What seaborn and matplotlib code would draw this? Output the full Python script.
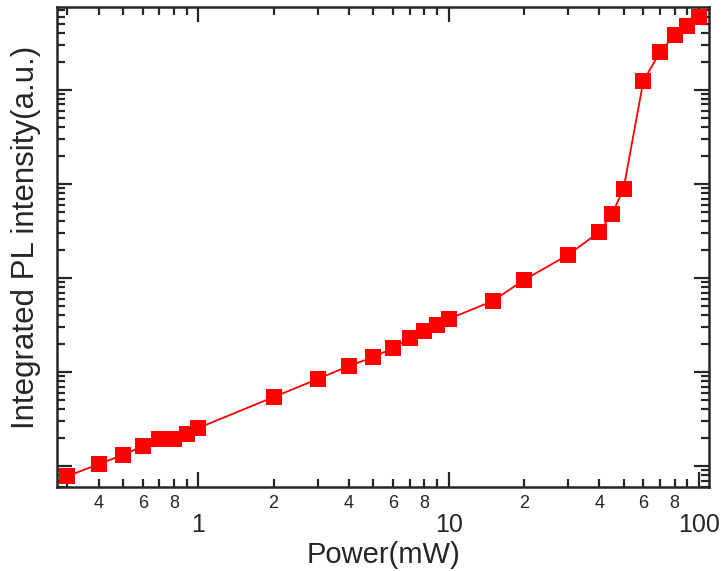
import matplotlib
matplotlib.use('Agg')
import matplotlib.pyplot as plt
import matplotlib.ticker as mticker
import numpy as np
import pandas as pd
import seaborn as sns

# data (y in arbitrary units, log scale)
power_mw = [0.3, 0.4, 0.5, 0.6, 0.7, 0.8, 0.9, 1, 2, 3, 4, 5, 6, 7, 8, 9, 10,
            15, 20, 30, 40, 45, 50, 60, 70, 80, 90, 100]
pl_intensity = [0.78, 1.05, 1.31, 1.63, 1.94, 1.96, 2.19, 2.54, 5.42, 8.43,
                11.6, 14.4, 18.0, 23.0, 27.3, 31.6, 36.6, 56.9, 95.2, 176,
                308, 480, 885, 12470, 25360, 38460, 47970, 59800]

df = pd.DataFrame({'power': power_mw, 'pl': pl_intensity})

sns.set_style('ticks')
plt.rcParams['font.family'] = ['Liberation Sans', 'DejaVu Sans']

fig, ax = plt.subplots(figsize=(7.23, 5.71), dpi=100)
fig.subplots_adjust(left=0.079, right=0.981, top=0.988, bottom=0.147)

ax.set_xscale('log')
ax.set_yscale('log')
sns.lineplot(data=df, x='power', y='pl', ax=ax, color='#ff0000',
             marker='s', markersize=11, markeredgewidth=0, linewidth=1.3)

ax.set_xlim(0.273, 110)
ax.set_ylim(10 ** -0.223, 10 ** 4.883)

# x ticks: major 1, 10, 100 with big labels; minor labelled 2/4/6/8
ax.xaxis.set_major_locator(mticker.LogLocator(base=10))
ax.xaxis.set_major_formatter(mticker.FuncFormatter(lambda v, p: f'{v:g}'))
ax.xaxis.set_minor_locator(mticker.LogLocator(base=10, subs=np.arange(2, 10)))


def minor_lab(v, p):
    d = int(round(v / 10 ** np.floor(np.log10(v) + 1e-9)))
    return str(d) if d in (2, 4, 6, 8) else ''


ax.xaxis.set_minor_formatter(mticker.FuncFormatter(minor_lab))

ax.yaxis.set_major_locator(mticker.LogLocator(base=10))
ax.yaxis.set_minor_locator(mticker.LogLocator(base=10, subs=np.arange(2, 10)))
ax.yaxis.set_major_formatter(mticker.NullFormatter())
ax.yaxis.set_minor_formatter(mticker.NullFormatter())

ax.tick_params(which='both', direction='in', top=True, right=True, width=1.6)
ax.tick_params(which='major', length=11)
ax.tick_params(which='minor', length=6)
ax.tick_params(axis='x', which='major', labelsize=18, pad=19)
ax.tick_params(axis='x', which='minor', labelsize=13, pad=6)

for s in ax.spines.values():
    s.set_linewidth(1.8)

ax.set_xlabel('Power(mW)', fontsize=21, va='center')
ax.set_ylabel('Integrated PL intensity(a.u.)', fontsize=22.5, va='center')
ax.xaxis.set_label_coords(0.5, -0.142)
ax.yaxis.set_label_coords(-0.048, 0.52)

plt.savefig('out.png', dpi=100)
